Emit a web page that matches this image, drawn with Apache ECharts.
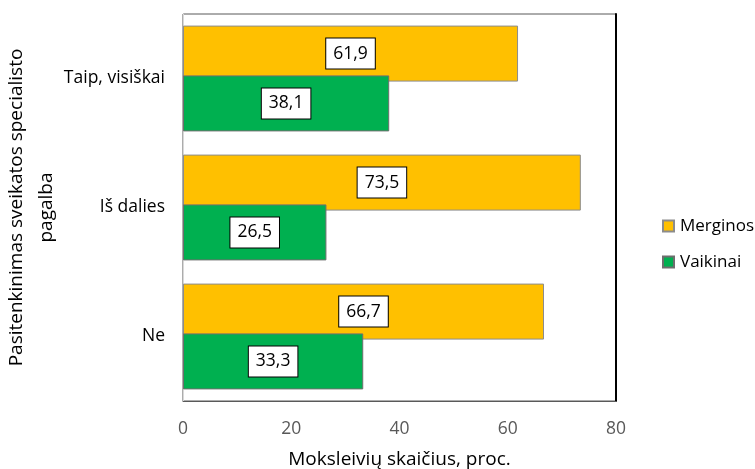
<!DOCTYPE html>
<html>
<head>
<meta charset="utf-8">
<script src="https://cdn.jsdelivr.net/npm/echarts@6/dist/echarts.min.js"></script>
<style>
  html, body { margin: 0; padding: 0; background: #fff; }
  #chart { width: 755px; height: 469px; }
</style>
</head>
<body>
<div id="chart"></div>
<script>
// Answer categories (top to bottom)
const categories = ['Taip, visiškai', 'Iš dalies', 'Ne'];
// Share of students by group, percent
const merginos = [61.9, 73.5, 66.7];
const vaikinai = [38.1, 26.5, 33.3];
// Value axis ticks
const xTicks = [0, 20, 40, 60, 80];

const FONT = '"Open Sans", "Liberation Sans", sans-serif';
const FS = 17.5;     // tick and value label size
const FS_TITLE = 19; // axis title size

const label = {
  show: true,
  position: 'inside',
  color: '#000',
  fontFamily: FONT,
  fontSize: FS,
  lineHeight: 20,
  backgroundColor: '#fff',
  borderColor: '#000',
  borderWidth: 1,
  padding: [5, 7],
  formatter: p => String(p.value).replace('.', ',')
};

const chart = echarts.init(document.getElementById('chart'), null, { renderer: 'canvas' });
chart.setOption({
  animation: false,
  textStyle: { fontFamily: FONT },
  grid: {
    left: 183, right: 139, top: 14, bottom: 68,
    outerBoundsMode: 'none',
    containLabel: false,
    show: true, borderColor: '#595959', borderWidth: 1, backgroundColor: 'transparent'
  },
  legend: {
    orient: 'vertical',
    left: 662, top: 216,
    padding: 0,
    icon: 'rect',
    itemWidth: 11, itemHeight: 11, itemGap: 16,
    textStyle: { fontFamily: FONT, fontSize: 17, color: '#000', lineHeight: 20, padding: [0, 0, 0, 1] },
    data: ['Merginos', 'Vaikinai']
  },
  xAxis: {
    type: 'value',
    min: xTicks[0], max: xTicks[xTicks.length - 1], interval: 20,
    axisLine: { show: true, lineStyle: { color: '#595959', width: 1 } },
    axisTick: { show: false },
    splitLine: { show: false },
    axisLabel: { color: '#595959', fontSize: FS, margin: 19, fontFamily: FONT },
    name: 'Moksleivių skaičius, proc.',
    nameLocation: 'middle',
    nameGap: 49,
    nameMoveOverlap: false,
    nameTextStyle: { color: '#000', fontSize: FS_TITLE, fontFamily: FONT }
  },
  yAxis: [{
    type: 'category',
    inverse: true,
    data: categories,
    axisLine: { show: true, lineStyle: { color: '#d9d9d9', width: 1 } },
    axisTick: { show: false },
    axisLabel: { color: '#000', fontSize: FS, margin: 18, fontFamily: FONT },
    name: 'Pasitenkinimas sveikatos specialisto\npagalba',
    nameLocation: 'middle',
    nameRotate: 90,
    nameGap: 121,
    nameMoveOverlap: false,
    nameTextStyle: { color: '#000', fontSize: FS_TITLE, lineHeight: 30, fontFamily: FONT, align: 'center' }
  }, {
    type: 'category',
    position: 'right',
    inverse: true,
    data: categories,
    axisLine: { show: true, lineStyle: { color: '#000', width: 2 } },
    axisTick: { show: false },
    axisLabel: { show: false }
  }],
  series: [{
    name: 'Merginos',
    type: 'bar',
    data: merginos,
    barWidth: 56,
    barGap: '-11%',
    itemStyle: { color: '#FFC000', borderColor: '#8c8c8c', borderWidth: 1 },
    label: label
  }, {
    name: 'Vaikinai',
    type: 'bar',
    data: vaikinai,
    barWidth: 56,
    barGap: '-11%',
    itemStyle: { color: '#00B050', borderColor: '#6e6e6e', borderWidth: 1 },
    label: label
  }]
});
</script>
</body>
</html>
